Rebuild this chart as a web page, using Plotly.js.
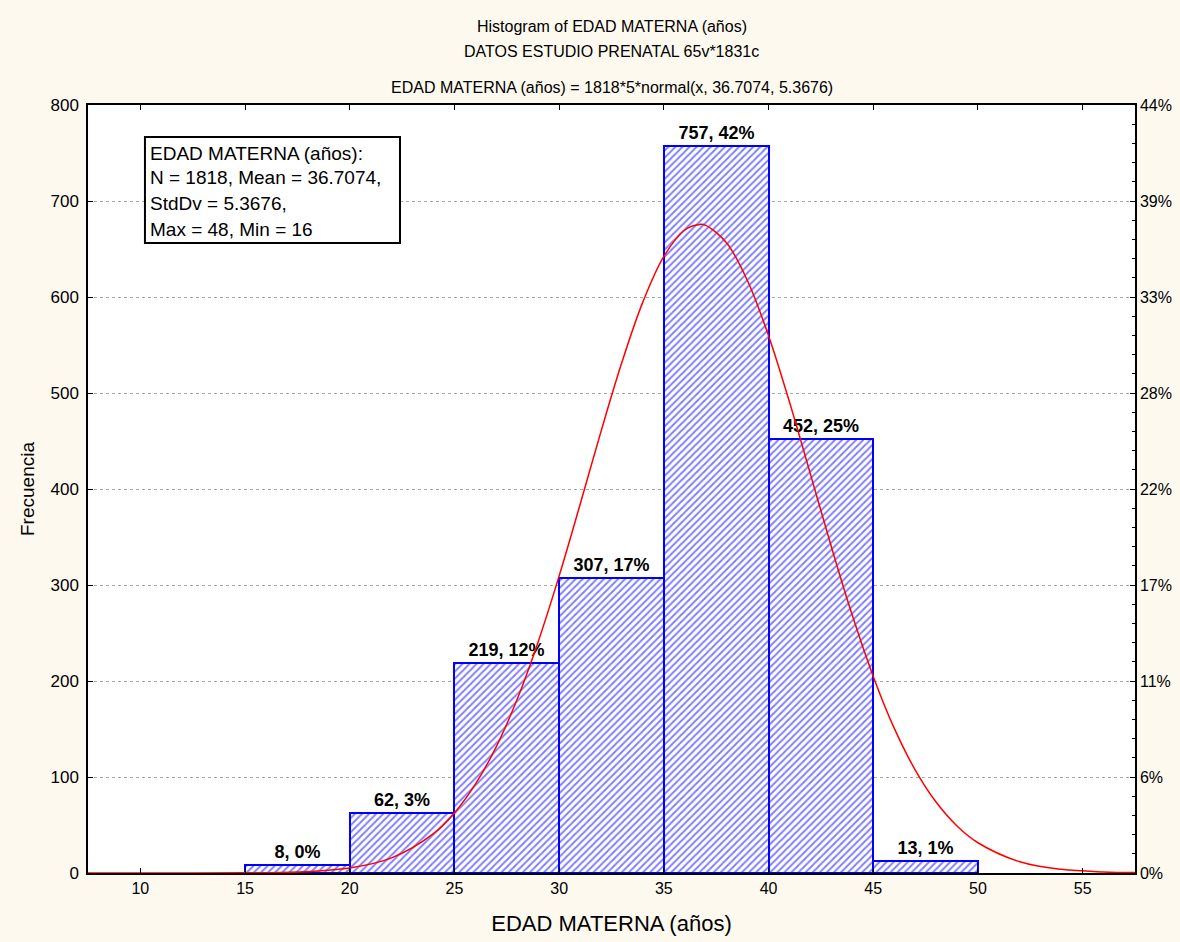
<!DOCTYPE html>
<html>
<head>
<meta charset="utf-8">
<script src="https://cdn.plot.ly/plotly-3.0.1.min.js"></script>
<style>html,body{margin:0;padding:0;background:#fdf9ee;}#chart{width:1180px;height:942px;}</style>
</head>
<body>
<div id="chart"></div>
<script>
// Histogram bins (centres), counts and percentages
const binCenters = [17.5, 22.5, 27.5, 32.5, 37.5, 42.5, 47.5];
const counts = [8, 62, 219, 307, 757, 452, 13];
const percents = [0, 3, 12, 17, 42, 25, 1];

// Fitted normal curve
const curveX = [7.5, 10, 15, 17.5, 20, 22, 24, 25, 26, 27, 28, 29, 30, 31, 32, 33, 34, 35, 36, 36.7, 37, 38, 39, 40, 41, 42, 43, 44, 45, 46, 47, 48, 49, 50, 52, 54, 56, 57.5];
const curveY = [0, 0, 0.2, 1.1, 5.3, 15.8, 41, 62.6, 92.5, 131.7, 181.2, 241, 309.5, 383.9, 460, 532.2, 594.9, 642.3, 669.8, 675.6, 674.6, 656.3, 616.7, 559.7, 490.6, 415.5, 339.8, 268.4, 204.8, 150.9, 107.5, 73.9, 49, 31.5, 11.7, 3.8, 1.1, 0.4];

// Axis ticks
const xTicks = [10, 15, 20, 25, 30, 35, 40, 45, 50, 55];
const yTicks = [0, 100, 200, 300, 400, 500, 600, 700, 800];
const y2TickText = ['0%', '6%', '11%', '17%', '22%', '28%', '33%', '39%', '44%'];

const titleLines = ['Histogram of EDAD MATERNA (años)', 'DATOS ESTUDIO PRENATAL 65v*1831c', 'EDAD MATERNA (años) = 1818*5*normal(x, 36.7074, 5.3676)'];
const statLines = ['EDAD MATERNA (años):', 'N = 1818, Mean = 36.7074,', 'StdDv = 5.3676,', 'Max = 48, Min = 16'];

const barLabels = counts.map((c, i) => c + ', ' + percents[i] + '%');
const FONT = 'Liberation Sans, Arial, sans-serif';

const bars = {
  type: 'bar', x: binCenters, y: counts, width: 5,
  text: barLabels, textposition: 'outside', cliponaxis: false,
  textfont: {family: FONT, size: 18, color: '#000', weight: 'bold'},
  marker: {
    color: '#ffffff',
    line: {color: '#0000ff', width: 2},
    pattern: {shape: '/', fgcolor: '#0000ff', bgcolor: '#ffffff', size: 5, solidity: 0.4, fillmode: 'overlay'}
  },
  hoverinfo: 'x+y', showlegend: false
};
const curve = {
  type: 'scatter', mode: 'lines', x: curveX, y: curveY,
  line: {color: '#ff0000', width: 1.5, shape: 'spline'}, showlegend: false
};

const titleY = [1.1016, 1.0703, 1.0234];
const annotations = titleLines.map((t, i) => ({
  text: t, xref: 'paper', yref: 'paper', x: 0.5, y: titleY[i], xanchor: 'center', yanchor: 'middle',
  showarrow: false, font: {family: FONT, size: 16, color: '#000'}
}));
const statY = [0.9375, 0.905, 0.8715, 0.838];
statLines.forEach((t, i) => annotations.push({
  text: t, xref: 'paper', yref: 'paper', x: 0.0575, y: statY[i], xanchor: 'left', yanchor: 'middle',
  showarrow: false, font: {family: FONT, size: 19, color: '#000'}
}));

const layout = {
  width: 1180, height: 942,
  paper_bgcolor: '#fdf9ee', plot_bgcolor: '#ffffff',
  margin: {l: 88, r: 45, t: 105, b: 69},
  bargap: 0,
  font: {family: FONT, color: '#000'},
  xaxis: {
    range: [7.5, 57.5], tickvals: xTicks, ticks: 'inside', ticklen: 5, tickcolor: '#000',
    showline: true, linecolor: '#000', linewidth: 1.5, mirror: 'ticks', showgrid: false, zeroline: false,
    tickfont: {size: 16, family: FONT},
    title: {text: 'EDAD MATERNA (años)', font: {size: 22, family: FONT}, standoff: 20}
  },
  yaxis: {
    range: [0, 800], tickvals: yTicks, ticks: 'inside', ticklen: 5, tickcolor: '#000', ticklabelstandoff: 4,
    showline: true, linecolor: '#000', linewidth: 1.5, showgrid: true, gridcolor: '#a8a8a8', griddash: 'dot', gridwidth: 1,
    zeroline: false, tickfont: {size: 17, family: FONT},
    title: {text: 'Frecuencia', font: {size: 19, family: FONT}, standoff: 11}
  },
  yaxis2: {
    overlaying: 'y', side: 'right', range: [0, 800], tickvals: yTicks, ticktext: y2TickText,
    ticks: 'inside', ticklen: 5, tickcolor: '#000', showline: true, linecolor: '#000', linewidth: 1.5,
    minor: {dtick: 20, ticks: 'inside', ticklen: 3, tickcolor: '#000', showgrid: false},
    showgrid: false, zeroline: false, tickfont: {size: 16, family: FONT}
  },
  shapes: [{
    type: 'rect', xref: 'paper', yref: 'paper', x0: 0.0544, x1: 0.2980, y0: 0.8203, y1: 0.9583,
    line: {color: '#000', width: 2}, fillcolor: '#ffffff', layer: 'above'
  }],
  annotations: annotations
};

const y2dummy = {type: 'scatter', x: [null], y: [null], yaxis: 'y2', showlegend: false, hoverinfo: 'skip'};

Plotly.newPlot('chart', [bars, curve, y2dummy], layout, {displayModeBar: false});
</script>
</body>
</html>
